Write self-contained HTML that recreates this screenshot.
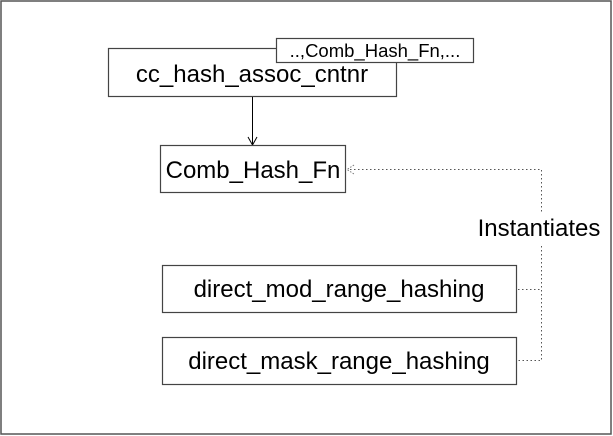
<!DOCTYPE html>
<html><head><meta charset="utf-8"><style>
html,body{margin:0;padding:0;background:#fff;}
svg{display:block;}
text{font-family:"Liberation Sans",Arial,sans-serif;fill:#000;}
</style></head><body>
<svg width="613" height="436" viewBox="0 0 613 436" xmlns="http://www.w3.org/2000/svg">
<rect x="1" y="1" width="610" height="433" fill="#fff" stroke="#555" stroke-width="1.5"/>
<rect x="108.5" y="48.5" width="288" height="48" fill="#fff" stroke="#444" stroke-width="1.2"/>
<text x="252" y="82" font-size="24" text-anchor="middle">cc_hash_assoc_cntnr</text>
<rect x="276.5" y="38.5" width="197" height="24" fill="#fff" stroke="#444" stroke-width="1.2"/>
<text x="375" y="57" font-size="18.5" text-anchor="middle">..,Comb_Hash_Fn,...</text>
<line x1="252.5" y1="97" x2="252.5" y2="144" stroke="#000" stroke-width="1"/>
<polyline points="248,137 252.5,145 257,137" fill="none" stroke="#000" stroke-width="1"/>
<rect x="160.5" y="145.5" width="185" height="47" fill="#fff" stroke="#444" stroke-width="1.2"/>
<text x="253" y="178" font-size="24" text-anchor="middle">Comb_Hash_Fn</text>
<g stroke="#555" stroke-width="1" stroke-dasharray="1.5,2.5" fill="none">
<polyline points="350,169.5 541.5,169.5 541.5,360.5 518,360.5"/>
<line x1="518" y1="289.5" x2="541.5" y2="289.5"/>
</g>
<polyline points="354,165 347,169.5 354,174" fill="none" stroke="#777" stroke-width="1" stroke-dasharray="1.5,1.5"/>
<rect x="476" y="212" width="130" height="32" fill="#fff"/>
<text x="539" y="236" font-size="24" text-anchor="middle">Instantiates</text>
<rect x="162.5" y="265.5" width="354" height="47" fill="#fff" stroke="#444" stroke-width="1.2"/>
<text x="339" y="297" font-size="24" text-anchor="middle">direct_mod_range_hashing</text>
<rect x="162.5" y="337.5" width="354" height="47" fill="#fff" stroke="#444" stroke-width="1.2"/>
<text x="339" y="369" font-size="24" text-anchor="middle">direct_mask_range_hashing</text>
</svg>
</body></html>
